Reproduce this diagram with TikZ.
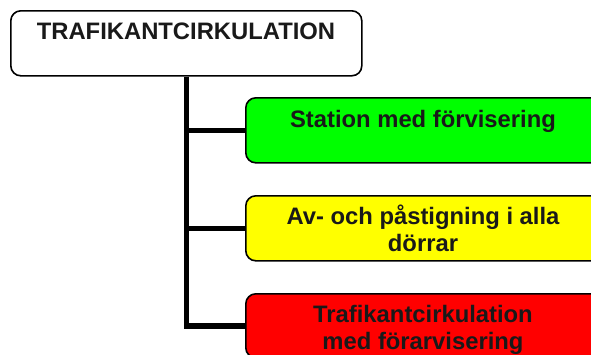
\documentclass[tikz,border=0pt]{standalone}
\usepackage{fontspec}
\setmainfont{Liberation Sans}
\usetikzlibrary{calc}

\definecolor{boxgreen}{RGB}{0,255,0}
\definecolor{boxyellow}{RGB}{255,255,0}
\definecolor{boxred}{RGB}{255,0,0}

\tikzset{
    box/.style={draw=black, line width=1.6pt, rounded corners=10pt},
    lbl/.style={font=\fontsize{23.8}{27}\selectfont\bfseries, text=black!90, align=center, inner sep=0pt, anchor=base},
    trunk/.style={line width=5.5pt, black}
}

\begin{document}
\begin{tikzpicture}[x=1pt,y=-1pt]
    \useasboundingbox (0,0) rectangle (591,354);
    % boxes
    \node[box, fill=white, minimum width=351pt, minimum height=65pt, anchor=north west] (top) at (10,10) {};
    \node[box, fill=boxgreen, minimum width=355pt, minimum height=65pt, anchor=north west] (green) at (245,97) {};
    \node[box, fill=boxyellow, minimum width=355pt, minimum height=65pt, anchor=north west] (yellow) at (245,195) {};
    \node[box, fill=boxred, minimum width=355pt, minimum height=64pt, anchor=north west] (red) at (245,293) {};
    % texts
    \node[lbl] (toptext) at (186,39.5) {TRAFIKANTCIRKULATION};
    \node[lbl] (greentext) at (423,127) {Station med förvisering};
    \node[lbl, anchor=north] (yellowtext) at (423,205) {Av- och påstigning i alla\\dörrar};
    \node[lbl, anchor=north] (redtext) at (423,305) {Trafikantcirkulation\\med förarvisering};
    % connectors
    \draw[trunk] (top.south) |- (red.west);
    \draw[trunk] (green.west) -- (green.west -| top.south);
    \draw[trunk] (yellow.west) -- (yellow.west -| top.south);
\end{tikzpicture}
\end{document}
